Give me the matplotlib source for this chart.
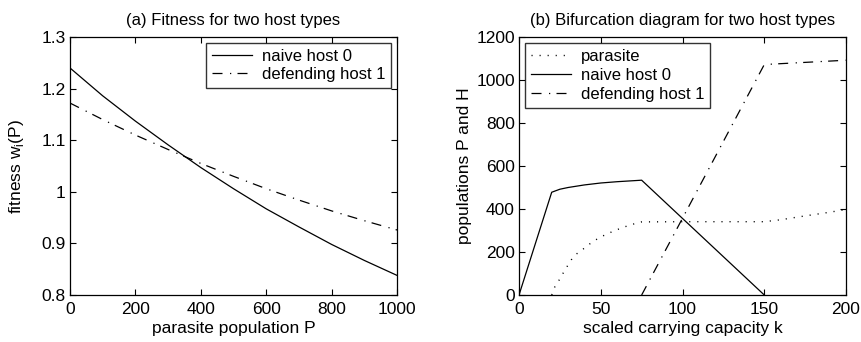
import matplotlib
matplotlib.use("Agg")
from matplotlib import pyplot as plt

plt.rcParams['font.family'] = ['Liberation Sans', 'DejaVu Sans']
plt.rcParams['mathtext.fontset'] = 'custom'
plt.rcParams['mathtext.rm'] = 'Liberation Sans'

# (a) fitness vs parasite population
P = [0, 100, 200, 300, 400, 500, 600, 700, 800, 900, 1000]
w_naive = [1.240, 1.186, 1.137, 1.091, 1.047, 1.006, 0.967, 0.932, 0.898, 0.867, 0.838]
w_defend = [1.172, 1.140, 1.110, 1.082, 1.055, 1.030, 1.006, 0.984, 0.963, 0.944, 0.926]

# (b) bifurcation diagram
k_par = [20, 22, 25, 27, 30, 32, 35, 40, 45, 50, 55, 60, 65, 70, 75, 100, 125, 150, 160, 175, 190, 200]
par = [0, 40, 75, 102, 140, 164, 190, 218, 248, 270, 288, 304, 318, 330, 340, 341, 341, 341, 350, 368, 385, 398]
k_naive = [0, 20, 25, 30, 35, 40, 50, 60, 75, 150]
naive = [0, 478, 492, 500, 506, 512, 521, 527, 534, 0]
k_def = [75, 150, 200]
defend = [0, 1072, 1092]

DD = (0, (8, 6, 1, 5))
DOT = (0, (0.8, 5))

fig = plt.figure(figsize=(8.62, 3.42), dpi=100)
ax1 = fig.add_axes([0.0812, 0.1374, 0.3794, 0.7544])
ax2 = fig.add_axes([0.6021, 0.1374, 0.3794, 0.7544])

ax1.plot(P, w_naive, color='black', lw=0.9, label='naive host 0')
ax1.plot(P, w_defend, color='black', lw=0.9, linestyle=DD, label='defending host 1')
ax1.set_xlim(0, 1000)
ax1.set_ylim(0.8, 1.3)
ax1.set_xticks([0, 200, 400, 600, 800, 1000])
ax1.set_yticks([0.8, 0.9, 1.0, 1.1, 1.2, 1.3])
ax1.set_yticklabels(['0.8', '0.9', '1', '1.1', '1.2', '1.3'])
ax1.set_xlabel('parasite population P', fontsize=12.5, labelpad=3)
ax1.set_ylabel(r'fitness w$_\mathrm{i}$(P)', fontsize=12.5, labelpad=11)
ax1.set_title('(a) Fitness for two host types', fontsize=12, pad=9)
leg1 = ax1.legend(loc='upper right', fontsize=12, frameon=True, fancybox=False,
                  edgecolor='black', borderaxespad=0.35, handlelength=2.4,
                  handletextpad=0.6, labelspacing=0.2, borderpad=0.35)
leg1.get_frame().set_linewidth(1.0)

ax2.plot(k_par, par, color='black', lw=1.0, linestyle=DOT, label='parasite')
ax2.plot(k_naive, naive, color='black', lw=0.9, label='naive host 0')
ax2.plot(k_def, defend, color='black', lw=0.9, linestyle=DD, label='defending host 1')
ax2.set_xlim(0, 200)
ax2.set_ylim(0, 1200)
ax2.set_xticks([0, 50, 100, 150, 200])
ax2.set_yticks([0, 200, 400, 600, 800, 1000, 1200])
ax2.set_xlabel('scaled carrying capacity k', fontsize=12.5, labelpad=3)
ax2.set_ylabel('populations P and H', fontsize=12.5, labelpad=3)
ax2.set_title('(b) Bifurcation diagram for two host types', fontsize=12, pad=9)
leg2 = ax2.legend(loc='upper left', fontsize=12, frameon=True, fancybox=False,
                  edgecolor='black', borderaxespad=0.35, handlelength=2.4,
                  handletextpad=0.6, labelspacing=0.25, borderpad=0.35)
leg2.get_frame().set_linewidth(1.0)

for ax in (ax1, ax2):
    ax.tick_params(direction='in', top=True, right=True, length=4, width=0.8,
                   labelsize=12.5, pad=3)
    ax.tick_params(axis='x', pad=5)
    for s in ax.spines.values():
        s.set_linewidth(0.9)

fig.savefig('out.png', dpi=100)
